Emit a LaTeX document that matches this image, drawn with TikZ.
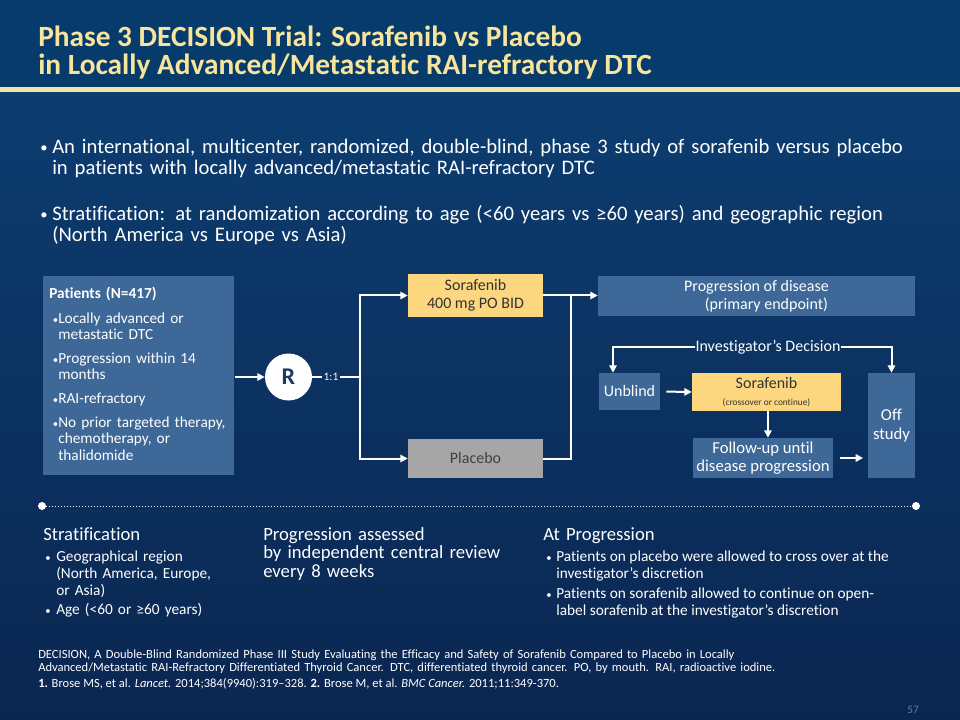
\documentclass[tikz,border=0pt]{standalone}
\usepackage{fontspec}
\setmainfont{Carlito}[Ligatures=NoCommon]
\usetikzlibrary{arrows.meta}
\definecolor{bandc}{HTML}{073B6C}
\definecolor{bgA}{HTML}{0C3D70}
\definecolor{bgB}{HTML}{1A4A80}
\definecolor{bgC}{HTML}{0B2651}
\definecolor{goldline}{HTML}{F2E3A6}
\definecolor{titlec}{HTML}{F8E59C}
\definecolor{boxblue}{HTML}{3D6897}
\definecolor{boxyel}{HTML}{FCD77F}
\definecolor{boxgray}{HTML}{A6A6A6}
\definecolor{darktext}{HTML}{333333}
\definecolor{graytext}{HTML}{404040}
\definecolor{navy}{HTML}{1F3864}
\definecolor{pagenum}{HTML}{4F81BD}
\newcommand{\fs}[2]{\fontsize{#1}{#2}\selectfont}
\begin{document}
\begin{tikzpicture}[x=0.75pt,y=-0.75pt,
  every node/.style={inner sep=0pt, text=white},
  bluebox/.style={fill=boxblue, draw=none, align=center, font=\fs{12}{13.5}},
  yelbox/.style={fill=boxyel, draw=none, align=center, text=darktext, font=\fs{12}{13.5}},
  graybox/.style={fill=boxgray, draw=none, align=center, text=graytext, font=\fs{12}{13.5}},
  ln/.style={draw=white, line width=1.5pt},
  arr/.style={draw=white, line width=1.5pt, -{Triangle[length=5.5pt,width=5.5pt]}},
  titletext/.style={anchor=base west, text=titlec, font=\fs{22}{26}\bfseries},
  bodytext/.style={anchor=base west, text width=690pt, align=left, font=\fs{15.5}{15.75}},
  bigdot/.style={anchor=base west, font=\fs{11}{12}},
  dot/.style={anchor=base west, font=\fs{8}{8}},
  ptxt/.style={anchor=base west, text width=180pt, align=left, font=\fs{11.5}{12.4}},
  head/.style={anchor=base west, text width=220pt, align=left, font=\fs{14}{14}},
  small/.style={anchor=base west, text width=340pt, align=left, font=\fs{11.5}{12.75}},
  line1/.style={anchor=base west, font=\fs{11.5}{12.4}}
]
\useasboundingbox (0,0) rectangle (960,720);
\shade[top color=bgA, middle color=bgB, bottom color=bgC] (0,88) rectangle (960,720);
\fill[bandc] (0,0) rectangle (960,88);
\fill[goldline] (0,87) rectangle (960,92);

% title
\node[titletext] (t1) at (38,47) {Phase 3 DECISION Trial: Sorafenib vs Placebo};
\node[titletext] (t2) at (38,75) {in Locally Advanced/Metastatic RAI-refractory DTC};

% bullets
\node[bigdot] (b1) at (40,153) {\textbullet};
\node[bodytext] (p1) at (52,154) {\hbox to 645pt{An international, multicenter, randomized, double-blind, phase 3 study of sorafenib versus placebo}\\in patients with locally advanced/metastatic RAI-refractory DTC};
\node[bigdot] (b2) at (40,220) {\textbullet};
\node[bodytext] (p2) at (52,221) {Stratification: at randomization according to age (<60 years vs ≥60 years) and geographic region\\(North America vs Europe vs Asia)};

% patients box
\node[fill=boxblue, minimum width=143.25pt, minimum height=149.25pt, anchor=north west] (pat) at (43,276) {};
\node[ptxt] (ph) at (49,298) {\bfseries Patients (N=417)};
\node[dot] (pd1) at (52.5,323) {\textbullet};
\node[ptxt] (pi1) at (58,323) {Locally advanced or\\metastatic DTC};
\node[dot] (pd2) at (52.5,363) {\textbullet};
\node[ptxt] (pi2) at (58,363) {Progression within 14\\months};
\node[dot] (pd3) at (52.5,403) {\textbullet};
\node[ptxt] (pi3) at (58,403) {RAI-refractory};
\node[dot] (pd4) at (52.5,427) {\textbullet};
\node[ptxt] (pi4) at (58,427) {No prior targeted therapy,\\chemotherapy, or\\thalidomide};

% randomisation
\node[circle, fill=white, minimum size=35.25pt, text=navy, font=\fs{18}{18}\bfseries] (R) at (288.5,377) {R};
\draw[arr] (pat.east |- R.west) -- (R.west);
\node[inner sep=1pt, font=\fs{8.5}{9}] (ratio) at (331,377) {1:1};
\coordinate (j1) at (360,377);
\draw[ln] (R.east) -- (ratio.west);
\draw[ln] (ratio.east) -- (j1);

\node[yelbox, minimum width=101.25pt, minimum height=32.25pt] (sor) at (475.5,295.5) {Sorafenib\\400 mg PO BID};
\node[graybox, minimum width=101.25pt, minimum height=29.25pt] (pla) at (475.5,458.5) {Placebo};
\draw[arr] (j1) |- (sor.west);
\draw[arr] (j1) |- (pla.west);

\node[bluebox, minimum width=237.75pt, minimum height=30pt] (prog) at (756.5,296) {Progression of disease\\\hspace*{15pt}(primary endpoint)};
\coordinate (j2) at (571,295.5);
\draw[ln] (sor.east) -- (j2);
\draw[ln] (pla.east) -| (j2);
\draw[arr] (j2) -- (prog.west |- j2);

% post-progression
\node[bluebox, minimum width=45.75pt, minimum height=27.75pt] (unb) at (629.5,391.5) {Unblind};
\node[yelbox, minimum width=111.75pt, minimum height=28.5pt] (sor2) at (766.5,392) {Sorafenib\\[-1pt]{\fs{7}{8}(crossover or continue)}};
\node[bluebox, minimum width=105pt, minimum height=30pt, font=\fs{12.5}{13.5}] (fol) at (763,458) {Follow-up until\\disease progression};
\node[bluebox, minimum width=35.25pt, minimum height=78.75pt, font=\fs{12.5}{14}] (off) at (891.5,425.5) {Off\\study};

\node[font=\fs{12}{13}] (inv) at (768,347) {Investigator’s Decision};
\coordinate (invL) at (613,347);
\coordinate (invR) at (891.5,347);
\draw[arr] (inv.west) -- (invL) -- (invL |- unb.north);
\draw[arr] (inv.east) -- (invR) -- (off.north);
\draw[arr, shorten <=4.5pt] (unb.east) -- (sor2.west);
\draw[arr] ([xshift=1.1pt]sor2.south) -- ([xshift=1.1pt]sor2.south |- fol.north);
\draw[arr, shorten <=5pt, shorten >=3.5pt] (fol.east) -- (fol.east -| off.west);

% dotted separator
\node[circle, fill=white, minimum size=6pt] (d1) at (42,506) {};
\node[circle, fill=white, minimum size=6pt] (d2) at (916,506) {};
\draw[white, line width=0.75pt, dash pattern=on 0.75pt off 1.5pt] (d1) -- (d2);

% bottom sections
\node[head] (h1) at (43,540) {Stratification};
\node[dot] (sd1) at (45,561) {\textbullet};
\node[small] (si1) at (56,561) {Geographical region\\(North America, Europe,\\or Asia)};
\node[dot] (sd2) at (45,614) {\textbullet};
\node[small] (si2) at (56,614) {Age (<60 or ≥60 years)};

\node[head, font=\fs{14}{13.9}] (h2) at (263,540) {Progression assessed\\by independent central review\\every 8 weeks};

\node[head] (h3) at (543,540) {At Progression};
\node[dot] (ad1) at (546,561.5) {\textbullet};
\node[line1] (ai1) at (556,561.5) {Patients on placebo were allowed to cross over at the};
\node[line1] (ai1b) at (556,578) {investigator’s discretion};
\node[dot] (ad2) at (546,598.5) {\textbullet};
\node[line1] (ai2) at (556,598.5) {Patients on sorafenib allowed to continue on open-};
\node[line1] (ai2b) at (556,615) {label sorafenib at the investigator’s discretion};

% footnotes
\node[anchor=base west, text width=740pt, align=left, font=\fs{9.4}{10}] (fn1) at (38,658) {DECISION, A Double-Blind Randomized Phase III Study Evaluating the Efficacy and Safety of Sorafenib Compared to Placebo in Locally\\Advanced/Metastatic RAI-Refractory Differentiated Thyroid Cancer. DTC, differentiated thyroid cancer. PO, by mouth. RAI, radioactive iodine.};
\node[anchor=base west, font=\fs{9.4}{10}] (fn2) at (38,687) {{\bfseries 1.} Brose MS, et al. \textit{Lancet.} 2014;384(9940):319–328. {\bfseries 2.} Brose M, et al. \textit{BMC Cancer.} 2011;11:349-370.};
\node[anchor=base west, text=pagenum, font=\fs{8.5}{9}] (pg) at (907,713) {57};
\end{tikzpicture}
\end{document}
